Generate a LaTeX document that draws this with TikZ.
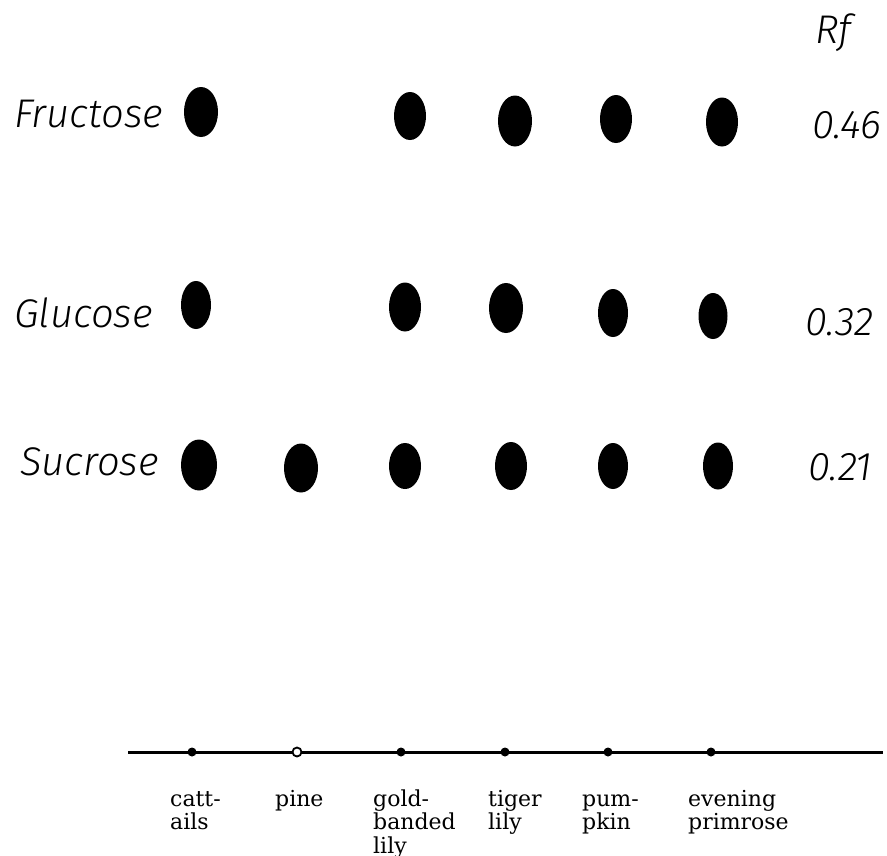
\documentclass[tikz,border=0pt]{standalone}
\usepackage{fontspec}
\usetikzlibrary{shapes.geometric}
\newfontfamily\handfont{Fira Sans Light Italic}
\newfontfamily\labfont{DejaVu Serif}
\tikzset{
  spot/.style={ellipse, fill=black, draw=none, inner sep=0pt},
  rowlab/.style={anchor=base west, inner sep=0pt, font=\handfont\fontsize{40}{44}\selectfont},
  rfval/.style={anchor=base west, inner sep=0pt, font=\handfont\fontsize{40}{44}\selectfont},
  plantlab/.style={anchor=base west, inner sep=0pt, font=\labfont\fontsize{22}{23}\selectfont},
  origin/.style={circle, fill=black, inner sep=0pt, minimum size=9pt},
  openorigin/.style={circle, fill=white, draw=black, line width=1.8pt, inner sep=0pt, minimum size=9pt},
}
\newcommand{\plab}[1]{\begin{tabular}[t]{@{}l@{}}#1\end{tabular}}
\begin{document}
\begin{tikzpicture}[x=1pt,y=-1pt]
\useasboundingbox (0,0) rectangle (887,855);
\fill[white] (0,0) rectangle (887,855);

% header and row labels
\node[rfval] (rf) at (815,43) {Rf};
\node[rowlab] (fru) at (14,127) {Fructose};
\node[rowlab] (glu) at (14,327) {Glucose};
\node[rowlab] (suc) at (20,475) {Sucrose};
\node[rfval] (v46) at (812,138) {0.46};
\node[rfval] (v32) at (805,335) {0.32};
\node[rfval] (v21) at (808,480) {0.21};

% Fructose spots
\node[spot, minimum width=34pt, minimum height=50pt] (f1) at (201,112) {};
\node[spot, minimum width=32pt, minimum height=48pt] (f3) at (410,116) {};
\node[spot, minimum width=34pt, minimum height=51pt] (f4) at (515,121) {};
\node[spot, minimum width=32pt, minimum height=48pt] (f5) at (616,119) {};
\node[spot, minimum width=32pt, minimum height=49pt] (f6) at (722,122) {};

% Glucose spots
\node[spot, minimum width=30pt, minimum height=48pt] (g1) at (196,305) {};
\node[spot, minimum width=32pt, minimum height=49pt] (g3) at (405,307) {};
\node[spot, minimum width=34pt, minimum height=50pt] (g4) at (506,308) {};
\node[spot, minimum width=30pt, minimum height=48pt] (g5) at (613,313) {};
\node[spot, minimum width=29pt, minimum height=46pt] (g6) at (713,316) {};

% Sucrose spots
\node[spot, minimum width=36pt, minimum height=51pt] (s1) at (199,465) {};
\node[spot, minimum width=34pt, minimum height=49pt] (s2) at (301,468) {};
\node[spot, minimum width=32pt, minimum height=46pt] (s3) at (405,466) {};
\node[spot, minimum width=32pt, minimum height=48pt] (s4) at (511,466) {};
\node[spot, minimum width=30pt, minimum height=46pt] (s5) at (613,466) {};
\node[spot, minimum width=30pt, minimum height=47pt] (s6) at (718,466) {};

% origin line
\coordinate (lstart) at (128,752);
\coordinate (lend) at (883,752);
\draw[line width=3pt] (lstart) -- (lend);
\node[origin] (o1) at (192,752) {};
\node[openorigin] (o2) at (297,752) {};
\node[origin] (o3) at (401,752) {};
\node[origin] (o4) at (505,752) {};
\node[origin] (o5) at (608,752) {};
\node[origin] (o6) at (711,752) {};

% plant labels
\node[plantlab] (p1) at (170,806) {\plab{catt-\\ails}};
\node[plantlab] (p2) at (275,806) {\plab{pine}};
\node[plantlab] (p3) at (373,806) {\plab{gold-\\banded\\lily}};
\node[plantlab] (p4) at (488,806) {\plab{tiger\\lily}};
\node[plantlab] (p5) at (582,806) {\plab{pum-\\pkin}};
\node[plantlab] (p6) at (688,806) {\plab{evening\\primrose}};
\end{tikzpicture}
\end{document}
